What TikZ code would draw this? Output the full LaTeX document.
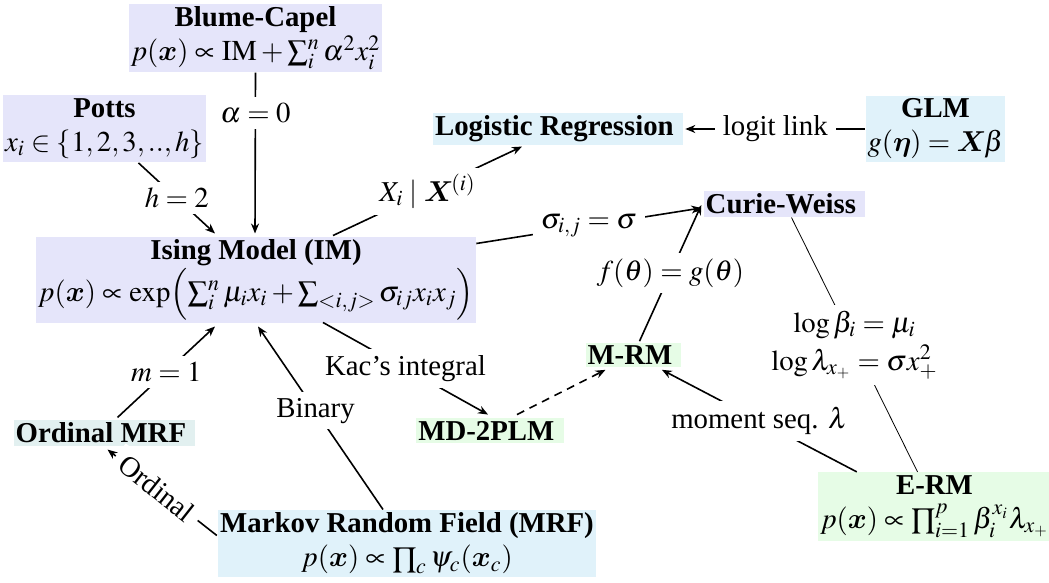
\documentclass[tikz,border=0pt]{standalone}
\usepackage{mathptmx}
\usepackage{fontspec}
\setmainfont{Liberation Serif}
\usetikzlibrary{arrows.meta,calc}
\definecolor{lav}{RGB}{229,229,250}
\definecolor{cya}{RGB}{224,242,250}
\definecolor{grn}{RGB}{230,252,230}
\definecolor{tea}{RGB}{226,240,240}
\newcommand{\cmbold}[1]{\mbox{\usefont{OML}{cmm}{b}{it}#1}}
\newcommand{\bxx}{\cmbold{x}}
\newcommand{\tsp}{\kern3.6pt}
\begin{document}
\begin{tikzpicture}[x=0.5pt,y=-0.5pt,
  font=\fontsize{14.4}{17}\selectfont,
  box/.style={inner xsep=1pt, inner ysep=1.5pt, align=center},
  lbl/.style={fill=white, inner xsep=4pt, inner ysep=3pt},
  conn/.style={line width=0.8pt, -{Stealth[length=5pt,width=4pt]}},
  plain/.style={line width=0.8pt}]
\useasboundingbox (0,0) rectangle (1049,583);

% nodes
\node[box, fill=lav] (bc) at (255.5,38) {\textbf{Blume-Capel}\\ $p(\bxx)\propto\mathrm{IM}+\sum_i^n\alpha^2x_i^2$};
\node[box, fill=lav] (potts) at (104.5,128.5) {\textbf{Potts}\\ $x_i\in\{1,2,3,..,h\}$};
\node[box, fill=cya] (lr) at (558,129) {\textbf{Logistic Regression}\tsp};
\node[box, fill=cya] (glm) at (935.5,129) {\textbf{GLM}\\ $g(\cmbold{\char17})=\cmbold{X}\beta$};
\node[box, fill=lav] (cw) at (784.5,204) {\textbf{Curie-Weiss}\tsp};
\node[box, fill=lav] (im) at (256,280) {\textbf{Ising Model (IM)}\\ $p(\bxx)\propto\exp\Bigl(\sum_i^n\mu_ix_i+\sum_{<i,j>}\sigma_{ij}x_ix_j\Bigr)$};
\node[box, fill=grn] (mrm) at (633.5,355) {\textbf{M-RM}\tsp};
\node[box, fill=tea] (omrf) at (104.5,433) {\textbf{Ordinal MRF}\tsp};
\node[box, fill=grn] (md) at (490,430.5) {\textbf{MD-2PLM}\tsp};
\node[box, fill=cya] (mrf) at (407,543.5) {\textbf{Markov Random Field (MRF)}\\ $p(\bxx)\propto\prod_c\psi_c(\bxx_c)$};
\node[box, fill=grn] (erm) at (934.5,506.5) {\textbf{E-RM}\\ $p(\bxx)\propto\prod_{i=1}^p\beta_i^{x_i}\lambda_{x_+}$};

% connectors
\draw[conn] (bc.south) -- node[lbl,pos=0.25]{$\alpha=0$} ($(im.north)+(-1,-3)$);
\draw[conn] ($(potts.south)+(34,1)$) -- node[lbl]{$h=2$} ($(im.north)+(-41,-3)$);
\draw[conn] ($(im.north)+(77,-1)$) -- node[lbl]{$X_i\mid\cmbold{X}^{(i)}$} ($(lr.south)+(-36,1)$);
\draw[conn] (glm.west) -- node[lbl]{logit link} ($(lr.east)+(2,0)$);
\draw[conn] ($(im.north east)+(0,7)$) -- node[lbl]{$\sigma_{i,j}=\sigma$} ($(cw.west)+(-2,4)$);
\draw[conn] ($(mrm.north)+(6,-1)$) -- node[lbl]{$f(\theta)=g(\theta)$} ($(cw.west)+(-2,1)$);
\draw[line width=0.4pt] ($(erm.north)+(-17,0)$) -- node[lbl,align=center]{$\log\beta_i=\mu_i$\\[2pt] $\log\lambda_{x_+}=\sigma x_+^2$} ($(cw.south)+(7,0)$);
\draw[conn] ($(erm.north west)+(39,0)$) -- node[lbl]{moment seq. $\lambda$} ($(mrm.south east)+(-20,2)$);
\draw[conn] ($(im.south)+(67,-1)$) -- node[lbl]{Kac’s integral} ($(md.north)+(-2,-3)$);
\draw[conn, dash pattern=on 4pt off 3pt] ($(md.north)+(27,-3)$) -- ($(mrm.south)+(-28,2)$);
\draw[conn] ($(mrf.north)+(-24,0)$) -- node[lbl,pos=0.54]{Binary} ($(im.south)+(2,3)$);
\draw[conn] ($(omrf.north)+(13,-2)$) -- node[lbl]{$m=1$} ($(im.south)+(-41,3)$);
\draw[conn] ($(mrf.west)+(-1,-8)$) -- node[lbl,sloped,pos=0.55]{Ordinal} ($(omrf.south)+(3,3)$);
\end{tikzpicture}
\end{document}
